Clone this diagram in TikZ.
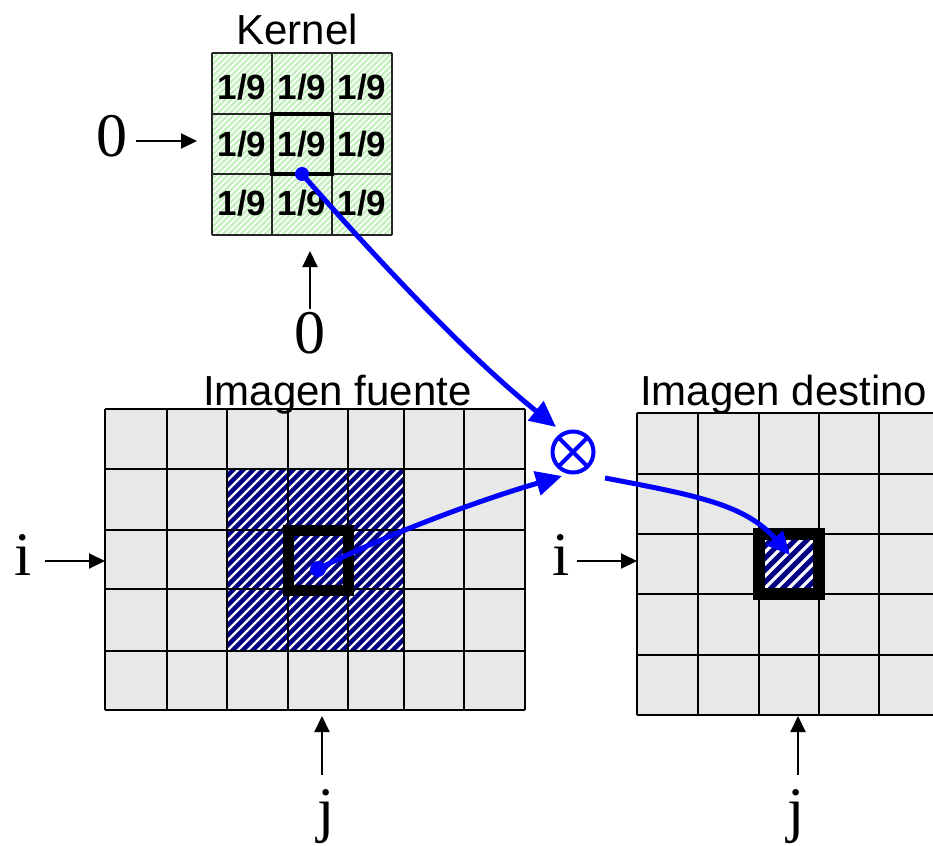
\documentclass[tikz,border=0pt]{standalone}
\usepackage{fontspec}
\setmainfont{Liberation Serif}
\newfontfamily\arial{Liberation Sans}
\usetikzlibrary{arrows.meta}
\definecolor{cellgray}{RGB}{232,232,232}
\definecolor{navyh}{RGB}{0,0,128}
\definecolor{kgreen}{RGB}{196,240,190}
\begin{document}
\begin{tikzpicture}[x=1pt,y=-1pt,
  blk/.style={line width=2pt,-{Triangle[length=16pt,width=15pt]}},
  blu/.style={blue,line width=5pt,-{Triangle[length=26pt,width=24pt]}},
  bluS/.style={blue,line width=5pt,-{Triangle[length=23pt,width=21pt]}},
  gridline/.style={black,line width=2pt},
  kgrid/.style={black!85,line width=1.5pt},
  titlefont/.style={font=\arial\fontsize{42}{42}\selectfont,inner sep=0pt},
  kfont/.style={font=\arial\bfseries\fontsize{35}{35}\selectfont,inner sep=0pt,anchor=base},
  serif/.style={font=\fontsize{62}{62}\selectfont,inner sep=0pt,anchor=base},
  thick square/.style={line width=11pt}]
\useasboundingbox (0,0) rectangle (933,845);

% ---------- Kernel ----------
\begin{scope}
  \clip (212,53) rectangle (392,235);
  \fill[kgreen] (212,53) rectangle (392,235);
  \foreach \k in {-185,-179,...,180}
    \draw[white,line width=1.6pt] (212+\k,235) -- (212+\k+182,53);
\end{scope}
\foreach \x in {212,272,332,392} \draw[kgrid] (\x,53) -- (\x,235);
\foreach \y in {53,114,174,235} \draw[kgrid] (212,\y) -- (392,\y);
\draw[line width=4pt] (272,114) rectangle (332,174);
\foreach \cx in {242,302,362}
  \foreach \by/\r in {100/1,157/2,215/3}
    \node[kfont] (k-\cx-\r) at (\cx,\by) {1/9};
\node[titlefont,anchor=base] (ktitle) at (297,45) {Kernel};

% ---------- Source image ----------
\fill[cellgray] (105,409) rectangle (525,710);
\begin{scope}
  \clip (227,469) rectangle (404,651);
  \fill[navyh] (227,469) rectangle (404,651);
  \foreach \k in {-190,-180,...,180}
    \draw[white,line width=2.3pt] (227+\k,651) -- (227+\k+182,469);
\end{scope}
\foreach \x in {105,167,227,288,348,404,464,525} \draw[gridline] (\x,409) -- (\x,710);
\foreach \y in {409,469,530,589,651,710} \draw[gridline] (105,\y) -- (525,\y);
\draw[thick square] (288.5,530) rectangle (348.5,590);
\node[titlefont,anchor=base west] (stitle) at (203,405) {Imagen fuente};

% ---------- Destination image ----------
\fill[cellgray] (637,413) rectangle (945,715);
\begin{scope}
  \clip (759,534) rectangle (819,594);
  \fill[navyh] (759,534) rectangle (819,594);
  \foreach \k in {-72,-60,...,72}
    \draw[white,line width=3.2pt] (759+\k,594) -- (759+\k+60,534);
\end{scope}
\foreach \x in {637,698,759,819,879,940} \draw[gridline] (\x,413) -- (\x,715);
\foreach \y in {413,474,534,594,655,715} \draw[gridline] (637,\y) -- (945,\y);
\draw[line width=12pt] (759,534) rectangle (819,594);
\node[titlefont,anchor=base west] (dtitle) at (640,405) {Imagen destino};

% ---------- Index labels ----------
\node[serif] (zleft) at (112,157) {0};
\node[serif] (zdown) at (310,353) {0};
\node[serif] (ileft) at (23,575) {i};
\node[serif] (iright) at (561,575) {i};
\node[serif] (jsrc) at (326.5,830) {j};
\node[serif] (jdst) at (796.5,830) {j};

\coordinate (zl-s) at (136,141);  \coordinate (zl-e) at (197,141);
\coordinate (zd-s) at (310,309);  \coordinate (zd-e) at (310,251);
\coordinate (il-s) at (45,561);   \coordinate (il-e) at (105,561);
\coordinate (ir-s) at (577,561);  \coordinate (ir-e) at (637,561);
\coordinate (js-s) at (322,775);  \coordinate (js-e) at (322,716);
\coordinate (jd-s) at (798,775);  \coordinate (jd-e) at (798,716);
\draw[blk] (zl-s) -- (zl-e);
\draw[blk] (zd-s) -- (zd-e);
\draw[blk] (il-s) -- (il-e);
\draw[blk] (ir-s) -- (ir-e);
\draw[blk] (js-s) -- (js-e);
\draw[blk] (jd-s) -- (jd-e);

% ---------- Product symbol ----------
\node[draw=blue,line width=4pt,circle,minimum size=41pt,inner sep=0pt,outer sep=0pt] (otimes) at (573,452) {};
\draw[blue,line width=4pt] (otimes.north west) -- (otimes.south east);
\draw[blue,line width=4pt] (otimes.north east) -- (otimes.south west);

% ---------- Blue connectors ----------
\coordinate (kdot) at (302,174);
\coordinate (sdot) at (318,569);
\coordinate (ot-in1) at (556,427);
\coordinate (ot-in2) at (562,476);
\coordinate (ot-out) at (605,478);
\coordinate (dcell) at (790,555);
\fill[blue] (kdot) circle (7);
\fill[blue] (sdot) circle (8);
\draw[blu] (kdot) .. controls (360,240) and (460,350) .. (ot-in1);
\draw[blu] (sdot) .. controls (390,533) and (480,500) .. (ot-in2);
\draw[bluS] (ot-out) .. controls (700,496) and (745,505) .. (dcell);
\end{tikzpicture}
\end{document}
